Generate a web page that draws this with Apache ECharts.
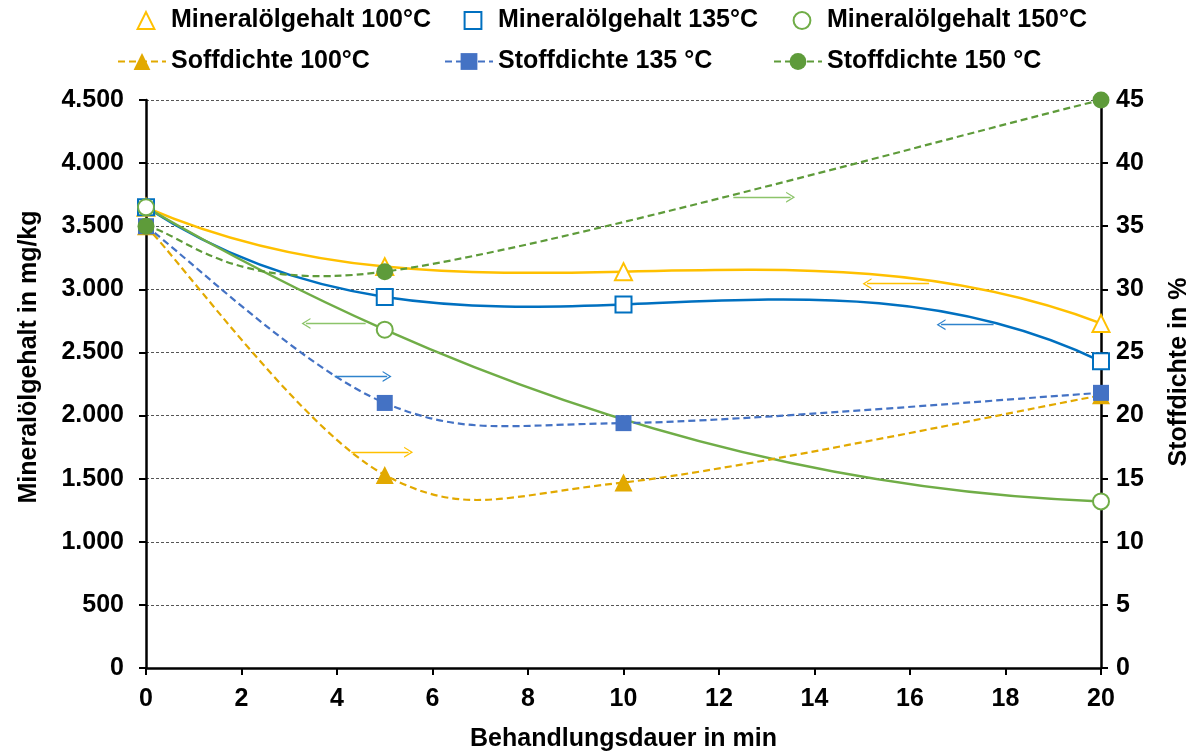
<!DOCTYPE html>
<html>
<head>
<meta charset="utf-8">
<script src="https://cdn.jsdelivr.net/npm/echarts@6/dist/echarts.min.js"></script>
<style>
  html, body { margin: 0; padding: 0; background: #fff; }
  #chart { width: 1196px; height: 751px; }
</style>
</head>
<body>
<div id="chart"></div>
<script>
// Treatment time in minutes
const times = [0, 5, 10, 20];

// Mineral oil content in mg/kg (left axis); null = not measured
const mineral100 = [3650, 3180, 3140, 2730];
const mineral135 = [3650, 2940, 2880, 2430];
const mineral150 = [3650, 2680, null, 1320];

// Consistency in % (right axis)
const stoff100 = [35, 15.3, 14.7, 21.6];
const stoff135 = [35, 21.0, 19.4, 21.8];
const stoff150 = [35, 31.4, null, 45];

// Hint arrows pointing towards the axis a curve belongs to: [x1, y1, x2, y2]
const arrowM150 = [4.6, 2730, 3.35, 2730];
const arrowS135 = [3.95, 23.1, 5.05, 23.1];
const arrowS100 = [4.3, 17.1, 5.5, 17.1];
const arrowS150 = [12.3, 37.3, 13.5, 37.3];
const arrowM100 = [16.4, 3045, 15.1, 3045];
const arrowM135 = [17.75, 2720, 16.65, 2720];

const FONT = '"Liberation Sans", Arial, sans-serif';

function pairs(values) {
  const out = [];
  values.forEach((v, i) => { if (v !== null) out.push([times[i], v]); });
  return out;
}

// ---- curve paths -------------------------------------------------------

// Smoothed polyline (Catmull-Rom style Bezier segments) through pixel points
function smoothPath(p) {
  let d = 'M' + p[0][0] + ',' + p[0][1];
  for (let i = 0; i < p.length - 1; i++) {
    const p0 = p[i - 1] || p[i], p1 = p[i], p2 = p[i + 1], p3 = p[i + 2] || p[i + 1];
    const c1 = [p1[0] + (p2[0] - p0[0]) / 6, p1[1] + (p2[1] - p0[1]) / 6];
    const c2 = [p2[0] - (p3[0] - p1[0]) / 6, p2[1] - (p3[1] - p1[1]) / 6];
    d += ' C' + c1[0] + ',' + c1[1] + ' ' + c2[0] + ',' + c2[1] + ' ' + p2[0] + ',' + p2[1];
  }
  return d;
}

// Polynomial trend curve through the points: Hermite segments whose
// slopes are those of the interpolating polynomial at each node.
function trendPath(pts, coord) {
  const n = pts.length;
  const xs = pts.map(q => q[0]), ys = pts.map(q => q[1]);
  const slope = k => {
    let s = 0;
    for (let j = 0; j < n; j++) {
      let dl;
      if (j === k) {
        dl = 0;
        for (let m = 0; m < n; m++) if (m !== k) dl += 1 / (xs[k] - xs[m]);
      } else {
        let num = 1, den = 1;
        for (let m = 0; m < n; m++) {
          if (m !== j) den *= (xs[j] - xs[m]);
          if (m !== j && m !== k) num *= (xs[k] - xs[m]);
        }
        dl = num / den;
      }
      s += ys[j] * dl;
    }
    return s;
  };
  const m = xs.map((_, k) => slope(k));
  const s0 = coord(pts[0]);
  let d = 'M' + s0[0] + ',' + s0[1];
  for (let i = 0; i < n - 1; i++) {
    const h = xs[i + 1] - xs[i];
    const c1 = coord([xs[i] + h / 3, ys[i] + m[i] * h / 3]);
    const c2 = coord([xs[i + 1] - h / 3, ys[i + 1] - m[i + 1] * h / 3]);
    const e = coord(pts[i + 1]);
    d += ' C' + c1[0] + ',' + c1[1] + ' ' + c2[0] + ',' + c2[1] + ' ' + e[0] + ',' + e[1];
  }
  return d;
}

function curveSeries(values, yAxisIndex, kind, color, width, dash) {
  return {
    type: 'custom',
    yAxisIndex: yAxisIndex,
    silent: true,
    z: 1,
    data: [[0, 0]],
    renderItem: function (params, api) {
      const pts = pairs(values);
      const coord = q => api.coord(q);
      const d = kind === 'trend' ? trendPath(pts, coord) : smoothPath(pts.map(coord));
      return {
        type: 'path',
        shape: { pathData: d },
        style: { stroke: color, lineWidth: width, fill: null, lineDash: dash || null }
      };
    }
  };
}

// open chevron arrow head (tip at top, rotated along the line)
const CHEVRON = 'path://M5,0 L10,10 L8.7,10 L5,2.6 L1.3,10 L0,10 Z';

function arrow(a, color) {
  return {
    silent: true,
    animation: false,
    symbol: ['none', CHEVRON],
    symbolSize: [11, 9],
    label: { show: false },
    lineStyle: { type: 'solid', width: 1.3, color: color, opacity: 1 },
    data: [[{ coord: [a[0], a[1]] }, { coord: [a[2], a[3]] }]]
  };
}

function thousands(v) {
  return String(v).replace(/\B(?=(\d{3})+(?!\d))/g, '.');
}

const C = {
  m100: '#FFC000', m135: '#0070C0', m150: '#70AD47',
  s100: '#E2A900', s135: '#4472C4', s150: '#5E9B3A'
};
const DASH = [7, 4];

const legendText = { fontFamily: FONT, fontSize: 25, fontWeight: 'bold', color: '#000' };

function legendItem(name, left, top, width, showLine) {
  return {
    data: [{ name: name, lineStyle: { opacity: showLine ? 1 : 0 } }],
    left: left, top: top,
    padding: 0,
    itemWidth: width, itemHeight: 21,
    textStyle: legendText,
    selectedMode: false
  };
}

function markerSeries(name, values, yAxisIndex, symbol, size, color, dashed, arrowData, arrowColor) {
  return {
    name: name, type: 'line', yAxisIndex: yAxisIndex,
    data: pairs(values), clip: false, z: 3,
    symbol: symbol, symbolSize: size,
    lineStyle: { color: color, width: 2.4, type: dashed ? DASH : 'solid', opacity: 0 },
    itemStyle: { color: color, borderWidth: symbol.indexOf('empty') === 0 ? 2.5 : 0 },
    markLine: arrow(arrowData, arrowColor)
  };
}

const chart = echarts.init(document.getElementById('chart'), null, { renderer: 'canvas' });

chart.setOption({
  animation: false,
  backgroundColor: '#fff',
  textStyle: { fontFamily: FONT },
  legend: [
    legendItem('Mineralölgehalt 100°C', 125, 8, 40, false),
    legendItem('Mineralölgehalt 135°C', 452, 8, 40, false),
    legendItem('Mineralölgehalt 150°C', 781, 8, 40, false),
    legendItem('Soffdichte 100°C', 117, 49, 48, true),
    legendItem('Stoffdichte 135 °C', 444, 49, 48, true),
    legendItem('Stoffdichte 150 °C', 773, 49, 48, true)
  ],
  grid: { left: 146, right: 95, top: 100, bottom: 83, containLabel: false, outerBoundsMode: 'none' },
  xAxis: {
    type: 'value',
    min: 0, max: 20, interval: 2,
    name: 'Behandlungsdauer in min',
    nameLocation: 'middle',
    nameGap: 59,
    nameTextStyle: { fontFamily: FONT, fontSize: 25, fontWeight: 'bold', color: '#000' },
    axisLine: { show: true, onZero: false, lineStyle: { color: '#000', width: 2.5 } },
    axisTick: { show: true, inside: false, length: 7, lineStyle: { color: '#000', width: 2 } },
    axisLabel: { fontFamily: FONT, fontSize: 25, fontWeight: 'bold', color: '#000', margin: 19 },
    splitLine: { show: false }
  },
  yAxis: [
    {
      type: 'value',
      position: 'left',
      min: 0, max: 4500, interval: 500,
      name: 'Mineralölgehalt in mg/kg',
      nameLocation: 'middle',
      nameGap: 104,
      nameTextStyle: { fontFamily: FONT, fontSize: 25, fontWeight: 'bold', color: '#000', padding: [0, 0, 0, 54] },
      axisLine: { show: true, lineStyle: { color: '#000', width: 2.5 } },
      axisTick: { show: true, inside: false, length: 7, lineStyle: { color: '#000', width: 2 } },
      axisLabel: { fontFamily: FONT, fontSize: 25, fontWeight: 'bold', color: '#000', margin: 22, formatter: thousands },
      splitLine: { show: true, showMinLine: false, lineStyle: { color: '#555', width: 1, type: [3, 2] } }
    },
    {
      type: 'value',
      position: 'right',
      min: 0, max: 45, interval: 5,
      name: 'Stoffdichte in %',
      nameLocation: 'middle',
      nameGap: 66,
      nameRotate: 90,
      nameTextStyle: { fontFamily: FONT, fontSize: 25, fontWeight: 'bold', color: '#000', padding: [0, 0, 0, 24] },
      axisLine: { show: true, lineStyle: { color: '#000', width: 2.5 } },
      axisTick: { show: true, inside: false, length: 7, lineStyle: { color: '#000', width: 2 } },
      axisLabel: { fontFamily: FONT, fontSize: 25, fontWeight: 'bold', color: '#000', margin: 15 },
      splitLine: { show: false }
    }
  ],
  series: [
    // curves
    curveSeries(mineral100, 0, 'trend', C.m100, 2.5),
    curveSeries(mineral135, 0, 'trend', C.m135, 2.5),
    curveSeries(mineral150, 0, 'trend', C.m150, 2.5),
    curveSeries(stoff100, 1, 'smooth', C.s100, 2.2, DASH),
    curveSeries(stoff135, 1, 'smooth', C.s135, 2.2, DASH),
    curveSeries(stoff150, 1, 'smooth', C.s150, 2.2, DASH),
    // measured points
    markerSeries('Mineralölgehalt 100°C', mineral100, 0, 'emptyTriangle', 17, C.m100, false, arrowM100, C.m100),
    markerSeries('Mineralölgehalt 135°C', mineral135, 0, 'emptyRect', 16, C.m135, false, arrowM135, '#2F83CC'),
    markerSeries('Mineralölgehalt 150°C', mineral150, 0, 'emptyCircle', 16, C.m150, false, arrowM150, '#8CC46A'),
    markerSeries('Soffdichte 100°C', stoff100, 1, 'triangle', 18, C.s100, true, arrowS100, C.m100),
    markerSeries('Stoffdichte 135 °C', stoff135, 1, 'rect', 16, C.s135, true, arrowS135, '#2F83CC'),
    markerSeries('Stoffdichte 150 °C', stoff150, 1, 'circle', 17, C.s150, true, arrowS150, '#8CC46A')
  ]
});
</script>
</body>
</html>
